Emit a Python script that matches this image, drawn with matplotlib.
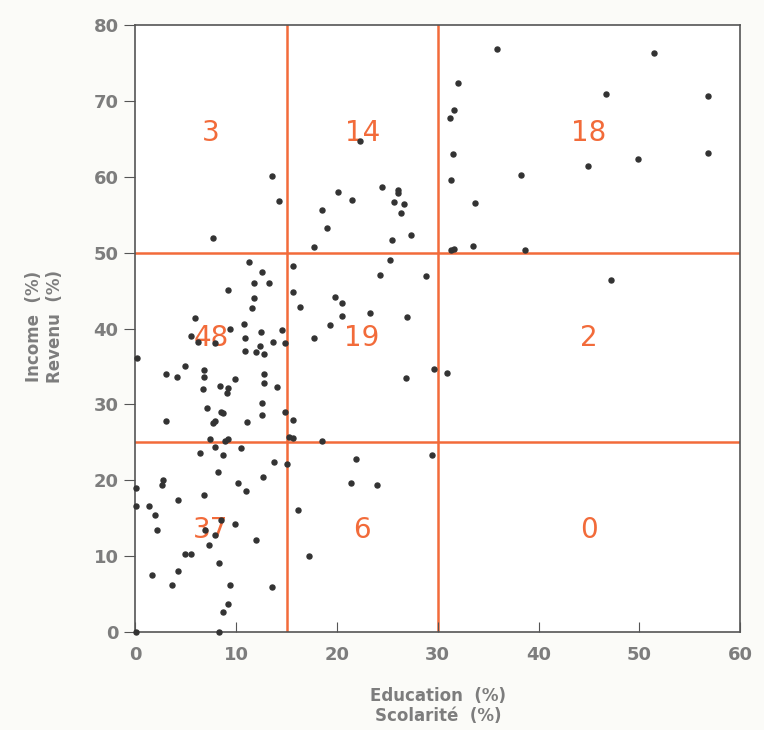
import matplotlib.pyplot as plt

# Education (%) / Income (%)
education = [
    # income > 50
    13.6, 14.3, 7.7,
    20.1, 21.5, 18.5, 19.0, 17.7, 24.5, 26.1, 26.1, 25.7, 26.7, 26.4, 27.3, 25.5, 22.3,
    35.9, 51.4, 32.0, 46.7, 56.8, 31.6, 31.2, 31.5, 56.8, 49.9, 44.9, 31.3, 38.3, 33.7,
    31.3, 31.6, 33.5, 38.6,
    # income 25-50
    11.3, 12.6, 11.8, 13.3, 9.2, 11.8, 11.6, 5.9, 9.4, 10.8, 12.5, 14.6, 5.5, 6.2, 7.9,
    10.9, 13.7, 14.9, 12.4, 10.9, 12.0, 12.8, 0.2, 4.9, 3.1, 4.1, 6.8, 6.8, 6.7, 9.9,
    12.8, 12.8, 8.4, 9.2, 9.1, 14.1, 12.6, 7.1, 8.5, 8.7, 7.9, 7.7, 12.6, 14.9, 3.1,
    11.1, 7.4, 8.9, 9.2,
    15.6, 25.3, 24.3, 28.8, 15.6, 16.3, 19.8, 20.5, 20.5, 23.3, 26.9, 19.3, 17.7, 29.6,
    26.8, 15.6, 15.6, 18.5, 15.2,
    47.2, 30.9,
    # income < 25
    7.9, 10.5, 8.7, 6.4, 13.8, 8.2, 12.7, 10.2, 11.0, 2.8, 2.7, 0.1, 6.8, 4.2, 0.1, 1.4,
    2.0, 2.2, 9.9, 7.3, 7.9, 12.0, 4.9, 5.5, 8.3, 1.7, 4.2, 3.6, 9.4, 13.6, 9.2, 8.7,
    0.1, 8.3, 15.0, 6.9, 8.5,
    21.9, 29.4, 21.4, 24.0, 16.1, 17.2,
]
income = [
    60.1, 56.8, 51.9,
    58.0, 56.9, 55.6, 53.2, 50.8, 58.6, 58.2, 57.8, 56.6, 56.4, 55.2, 52.3, 51.6, 64.7,
    76.8, 76.3, 72.3, 70.9, 70.6, 68.8, 67.7, 63.0, 63.1, 62.3, 61.4, 59.6, 60.2, 56.5,
    50.3, 50.5, 50.9, 50.4,
    48.7, 47.4, 46.0, 46.0, 45.1, 44.0, 42.7, 41.4, 40.0, 40.6, 39.5, 39.8, 39.0, 38.2, 38.1,
    38.7, 38.2, 38.1, 37.7, 37.0, 36.9, 36.6, 36.1, 35.0, 34.0, 33.6, 34.5, 33.6, 32.0, 33.3,
    34.0, 32.8, 32.4, 32.1, 31.5, 32.3, 30.2, 29.5, 29.0, 28.9, 27.8, 27.5, 28.6, 29.0, 27.8,
    27.7, 25.4, 25.2, 25.4,
    48.2, 49.0, 47.1, 46.9, 44.8, 42.8, 44.1, 43.3, 41.7, 42.0, 41.5, 40.5, 38.7, 34.6,
    33.5, 27.9, 25.6, 25.2, 25.7,
    46.4, 34.2,
    24.4, 24.2, 23.4, 23.6, 22.4, 21.1, 20.4, 19.6, 18.6, 20.0, 19.4, 19.0, 18.1, 17.4, 16.6, 16.6,
    15.4, 13.4, 14.2, 11.5, 12.8, 12.1, 10.3, 10.3, 9.1, 7.5, 8.0, 6.2, 6.2, 5.9, 3.7, 2.6,
    0.0, 0.0, 22.1, 13.5, 14.8,
    22.8, 23.3, 19.6, 19.4, 16.1, 10.1,
]

# cut-offs and counts per cell
edu_cuts = [15, 30]
inc_cuts = [25, 50]
cell_x = [7.5, 22.5, 45]
cell_y = [13.5, 38.7, 65.7]
counts = [["37", "6", "0"], ["48", "19", "2"], ["3", "14", "18"]]

orange = "#f26b3a"
grey = "#7d7d7d"

fig = plt.figure(figsize=(7.64, 7.30), dpi=100)
fig.patch.set_facecolor("#fbfbf8")
ax = fig.add_axes([0.177, 0.134, 0.792, 0.832])
ax.set_facecolor("white")

for xc in edu_cuts:
    ax.axvline(xc, color=orange, lw=1.8, zorder=1)
for yc in inc_cuts:
    ax.axhline(yc, color=orange, lw=1.8, zorder=1)

ax.scatter(education, income, s=13, color="#333333", zorder=3, clip_on=False)

for i, yv in enumerate(cell_y):
    for j, xv in enumerate(cell_x):
        ax.text(xv, yv, counts[i][j], color=orange, fontsize=20,
                ha="center", va="center", zorder=2)

ax.set_xlim(0, 60)
ax.set_ylim(0, 80)
ax.set_xticks(range(0, 61, 10))
ax.set_yticks(range(0, 81, 10))
ax.tick_params(axis="x", direction="in", length=7, colors="#555555",
               labelcolor=grey, labelsize=13, pad=10)
ax.tick_params(axis="y", direction="out", length=8, colors="#555555",
               labelcolor=grey, labelsize=13, pad=4)
for lbl in ax.get_xticklabels() + ax.get_yticklabels():
    lbl.set_fontweight("bold")
for side in ax.spines.values():
    side.set_color("#555555")
    side.set_linewidth(1.2)

ax.set_xlabel("Education  (%)\nScolarité  (%)", color=grey, fontsize=12,
              fontweight="bold", linespacing=1.15)
ax.xaxis.set_label_coords(0.5, -0.122)
ax.xaxis.label.set_va("center")
ax.set_ylabel("Income  (%)\nRevenu  (%)", color=grey, fontsize=12,
              fontweight="bold", linespacing=1.15)
ax.yaxis.set_label_coords(-0.150, 0.504)
ax.yaxis.label.set_va("center")

plt.savefig("out.png")
plt.close()
